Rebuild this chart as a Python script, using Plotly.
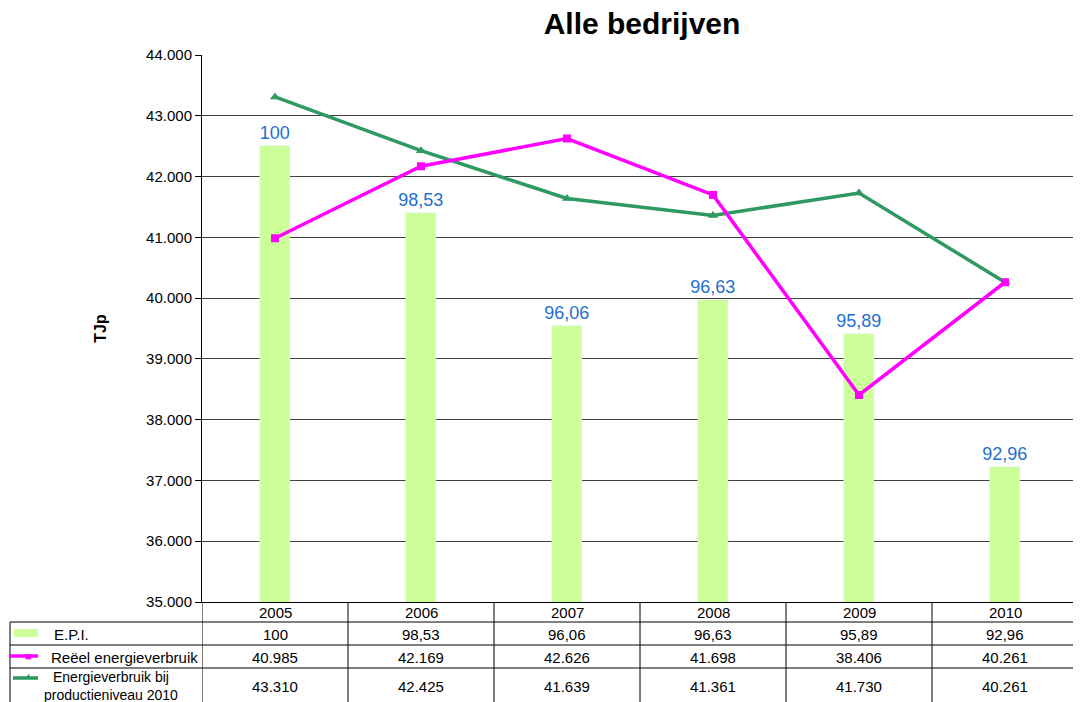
import plotly.graph_objects as go

years = ["2005", "2006", "2007", "2008", "2009", "2010"]
epi = [100, 98.53, 96.06, 96.63, 95.89, 92.96]
reeel = [40985, 42169, 42626, 41698, 38406, 40261]
productie = [43310, 42425, 41639, 41361, 41730, 40261]

# the page has an 8px body margin, so the figure starts at (8, 8)
OFF = 8
W, H = 1081 - OFF, 702 - OFF
L, R, T, B = 202 - OFF, 3, 55 - OFF, 100
plot_h = H - T - B
plot_w = W - L - R


def py(pix):
    # page pixel row -> paper y
    return (T + plot_h - (pix - OFF)) / plot_h


def px(pix):
    # page pixel column -> paper x
    return (pix - OFF - L) / plot_w


def nl_dec(v):
    return str(v).replace(".", ",")


def nl_int(v):
    return f"{v:,}".replace(",", ".")


PINK = "#ff00ff"
GREEN = "#2e9960"
BAR = "#ccff99"

fig = go.Figure()

fig.add_trace(go.Bar(
    x=years, y=epi, yaxis="y", name="E.P.I.",
    marker_color=BAR, width=0.2,
    text=[nl_dec(v) for v in epi], textposition="outside",
    constraintext="none",
    textfont=dict(color="#1f6fd0", size=18), cliponaxis=False,
))
fig.add_trace(go.Scatter(
    x=years, y=productie, yaxis="y2",
    name="Energieverbruik bij productieniveau 2010", mode="lines+markers",
    line=dict(color=GREEN, width=3.5),
    marker=dict(symbol="triangle-up", size=9, color=GREEN),
))
fig.add_trace(go.Scatter(
    x=years, y=reeel, yaxis="y2", name="Reëel energieverbruik", mode="lines+markers",
    line=dict(color=PINK, width=3.5),
    marker=dict(symbol="square", size=8, color=PINK),
))

shapes = []
annotations = []
txt = dict(size=15, color="black")


def note(x, y, text, font, xref="paper"):
    annotations.append(dict(x=x, y=y, xref=xref, yref="paper", text=text,
                            showarrow=False, xanchor="center", yanchor="middle",
                            font=font))


# table grid
bottom = py(702)
for k in range(7):
    shapes.append(dict(type="line", xref="x", yref="paper", x0=k - 0.5, x1=k - 0.5,
                       y0=0, y1=bottom, line=dict(color="black", width=1)))
shapes.append(dict(type="line", xref="paper", yref="paper", x0=px(10), x1=px(10),
                   y0=py(622), y1=bottom, line=dict(color="black", width=1)))
for row in [622, 645, 668]:
    shapes.append(dict(type="line", xref="paper", yref="paper", x0=px(10), x1=1,
                       y0=py(row), y1=py(row), line=dict(color="black", width=1)))

# header years and table values
rows = [
    (612, years),
    (634, [nl_dec(v) for v in epi]),
    (657, [nl_int(v) for v in reeel]),
    (686, [nl_int(v) for v in productie]),
]
for ypix, vals in rows:
    for k, v in enumerate(vals):
        note(k, py(ypix), v, txt, xref="x")

# row labels
note(px(71), py(634), "E.P.I.", txt)
note(px(124), py(657), "Reëel energieverbruik", txt)
note(px(111), py(686), "Energieverbruik bij<br>productieniveau 2010",
     dict(size=14, color="black"))

# legend keys in table
shapes.append(dict(type="rect", xref="paper", yref="paper", x0=px(14), x1=px(38),
                   y0=py(637), y1=py(629), fillcolor=BAR, line=dict(width=0)))
shapes.append(dict(type="line", xref="paper", yref="paper", x0=px(9), x1=px(38),
                   y0=py(656), y1=py(656), line=dict(color=PINK, width=3.5)))
shapes.append(dict(type="line", xref="paper", yref="paper", x0=px(13), x1=px(38),
                   y0=py(678), y1=py(678), line=dict(color=GREEN, width=3.5)))
note(px(28), py(656), "■", dict(size=11, color=PINK))
note(px(28), py(676), "▲", dict(size=9, color=GREEN))

fig.update_layout(
    width=W, height=H,
    margin=dict(l=L, r=R, t=T, b=B, autoexpand=False),
    paper_bgcolor="white", plot_bgcolor="white",
    separators=",.",
    font=dict(family="Liberation Sans, Arial, sans-serif", size=14, color="black"),
    title=dict(text="<b>Alle bedrijven</b>", x=px(642), xref="paper", xanchor="center",
               y=1 - (23 - OFF) / H, yanchor="middle", font=dict(size=30, color="black")),
    showlegend=False,
    xaxis=dict(type="category", range=[-0.5, 5.5], showgrid=False, showticklabels=False,
               ticks="", showline=True, linecolor="black", linewidth=1, zeroline=False,
               automargin=False),
    yaxis=dict(range=[90, 102], visible=False, automargin=False),
    yaxis2=dict(range=[35000, 44000], dtick=1000, tickformat=",d", overlaying="y",
                side="left", anchor="x",
                showgrid=True, gridcolor="#404040", gridwidth=1,
                showline=True, linecolor="black", linewidth=1,
                ticks="outside", ticklen=6, tickcolor="black",
                tickfont=dict(size=15), zeroline=False, automargin=False,
                title=dict(text="<b>TJp</b>", font=dict(size=16), standoff=35)),
    shapes=shapes,
    annotations=annotations,
    bargap=0,
)

fig.write_html("out.html")
